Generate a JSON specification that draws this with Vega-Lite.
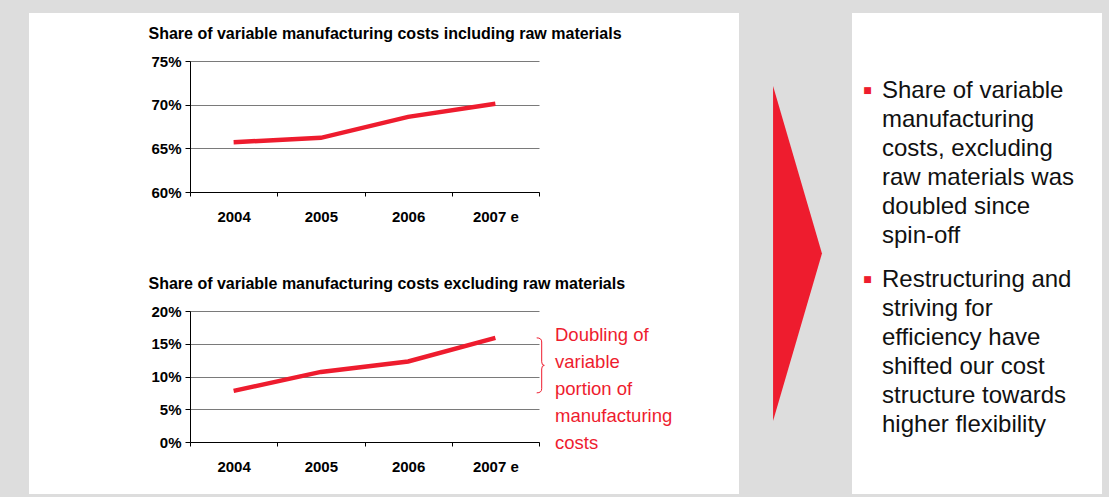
{
  "$schema": "https://vega.github.io/schema/vega-lite/v6.json",
  "background": "#dddddd",
  "padding": {"left": 29, "top": 13, "right": 7, "bottom": 3},
  "bounds": "flush",
  "spacing": 0,
  "config": {
    "font": "Liberation Sans",
    "view": {"stroke": null},
    "axis": {
      "domainColor": "#000000", "domainWidth": 1,
      "tickColor": "#000000", "tickWidth": 1,
      "labelColor": "#000000", "labelFont": "Liberation Sans", "labelFontSize": 15, "labelFontWeight": "bold",
      "titleFont": "Liberation Sans", "titleColor": "#000000", "titleFontSize": 16, "titleFontWeight": "bold"
    }
  },
  "hconcat": [
    {
      "width": 161, "height": 481,
      "view": {"fill": "#ffffff"},
      "data": {"values": []},
      "mark": {"type": "point", "opacity": 0},
      "encoding": {}
    },
    {
      "width": 549, "height": 481,
      "view": {"fill": "#ffffff"},
      "layer": [
        {
          "data": {"values": [
            {"year": "2004", "share": 0.657},
            {"year": "2005", "share": 0.662},
            {"year": "2006", "share": 0.686},
            {"year": "2007 e", "share": 0.701}
          ]},
          "mark": {"type": "line", "color": "#ee1c2e", "strokeWidth": 4.5},
          "encoding": {
            "x": {
              "field": "year", "type": "nominal", "sort": null,
              "scale": {"type": "band", "domain": ["2004", "2005", "2006", "2007 e"], "paddingInner": 0, "paddingOuter": 0, "range": [0, 349]},
              "axis": {"orient": "bottom", "offset": -302, "title": null, "labelAngle": 0, "tickBand": "extent", "tickSize": 4, "labelPadding": 13.5, "grid": false}
            },
            "y": {
              "field": "share", "type": "quantitative",
              "scale": {"domain": [0.6, 0.75], "range": [179, 48], "nice": false, "zero": false},
              "axis": {
                "orient": "left", "values": [0.6, 0.65, 0.7, 0.75], "format": ".0%",
                "grid": true, "gridColor": "#7a7a7a", "gridWidth": 1,
                "tickSize": 5, "labelPadding": 4,
                "title": "Share of variable manufacturing costs including raw materials",
                "titleAngle": 0, "titleAlign": "left", "titleBaseline": "alphabetic",
                "titleX": -42, "titleY": 25.3
              }
            }
          }
        },
        {
          "layer": [
            {
              "data": {"values": [
                {"year": "2004", "share": 0.078},
                {"year": "2005", "share": 0.107},
                {"year": "2006", "share": 0.123},
                {"year": "2007 e", "share": 0.159}
              ]},
              "mark": {"type": "line", "color": "#ee1c2e", "strokeWidth": 4.5},
              "encoding": {
                "x": {
                  "field": "year", "type": "nominal", "sort": null,
                  "scale": {"type": "band", "domain": ["2004", "2005", "2006", "2007 e"], "paddingInner": 0, "paddingOuter": 0, "range": [0, 349]},
                  "axis": {"orient": "bottom", "offset": -52, "title": null, "labelAngle": 0, "tickBand": "extent", "tickSize": 4, "labelPadding": 13.5, "grid": false}
                },
                "y": {
                  "field": "share", "type": "quantitative",
                  "scale": {"domain": [0, 0.2], "range": [429, 298], "nice": false, "zero": false},
                  "axis": {
                    "orient": "left", "values": [0, 0.05, 0.1, 0.15, 0.2], "format": ".0%",
                    "grid": true, "gridColor": "#7a7a7a", "gridWidth": 1,
                    "tickSize": 5, "labelPadding": 4,
                    "title": "Share of variable manufacturing costs excluding raw materials",
                    "titleAngle": 0, "titleAlign": "left", "titleBaseline": "alphabetic",
                    "titleX": -42, "titleY": 275.3
                  }
                }
              }
            },
            {
              "data": {"values": [{"annotation": "brace"}]},
              "mark": {
                "type": "point",
                "shape": "M -0.084 -1 Q 0.098 -1 0.098 -0.85 L 0.098 -0.13 Q 0.098 0 0.193 0 Q 0.098 0 0.098 0.13 L 0.098 0.85 Q 0.098 1 -0.084 1",
                "size": 3025, "filled": false, "stroke": "#ee1c2e", "strokeWidth": 1, "opacity": 1
              },
              "encoding": {
                "x": {"datum": "2007 e", "type": "nominal", "bandPosition": 1},
                "y": {"datum": 0.117, "type": "quantitative"}
              }
            },
            {
              "data": {"values": [{"note": ["Doubling of", "variable", "portion of", "manufacturing", "costs"]}]},
              "mark": {"type": "text", "align": "left", "baseline": "top", "dx": 16, "fontSize": 18.5, "lineHeight": 27, "color": "#ee1c2e", "font": "Liberation Sans"},
              "encoding": {
                "x": {"datum": "2007 e", "type": "nominal", "bandPosition": 1},
                "y": {"datum": 0.177, "type": "quantitative"},
                "text": {"field": "note"}
              }
            }
          ]
        }
      ],
      "resolve": {
        "scale": {"x": "independent", "y": "independent"},
        "axis": {"x": "independent", "y": "independent"}
      }
    },
    {
      "width": 113, "height": 481,
      "data": {"values": [{"shape": "arrow"}]},
      "mark": {
        "type": "point",
        "shape": "M -0.134 -1 L 0.158 0 L -0.134 1 Z",
        "size": 112225, "filled": true, "color": "#ee1c2e", "opacity": 1, "strokeWidth": 0
      },
      "encoding": {}
    },
    {
      "width": 250, "height": 481,
      "view": {"fill": "#ffffff"},
      "data": {"values": [
        {"bullet": 1, "lines": ["Share of variable", "manufacturing", "costs, excluding", "raw materials was", "doubled since", "spin-off"]},
        {"bullet": 2, "lines": ["Restructuring and", "striving for", "efficiency have", "shifted our cost", "structure towards", "higher flexibility"]}
      ]},
      "layer": [
        {
          "mark": {"type": "text", "align": "left", "baseline": "top", "dx": -95, "fontSize": 24, "lineHeight": 29, "font": "Liberation Sans", "color": "#111111"},
          "encoding": {
            "y": {"field": "bullet", "type": "nominal", "bandPosition": 0,
                  "scale": {"type": "band", "paddingInner": 0, "paddingOuter": 0.2765, "align": 0.6363}, "axis": null},
            "text": {"field": "lines"}
          }
        },
        {
          "mark": {"type": "text", "text": "■", "align": "center", "baseline": "middle", "dx": -109.5, "fontSize": 9, "font": "DejaVu Sans", "color": "#ee1c2e"},
          "encoding": {
            "y": {"field": "bullet", "type": "nominal", "bandPosition": 0.058,
                  "scale": {"type": "band", "paddingInner": 0, "paddingOuter": 0.2765, "align": 0.6363}, "axis": null}
          }
        }
      ]
    }
  ]
}
